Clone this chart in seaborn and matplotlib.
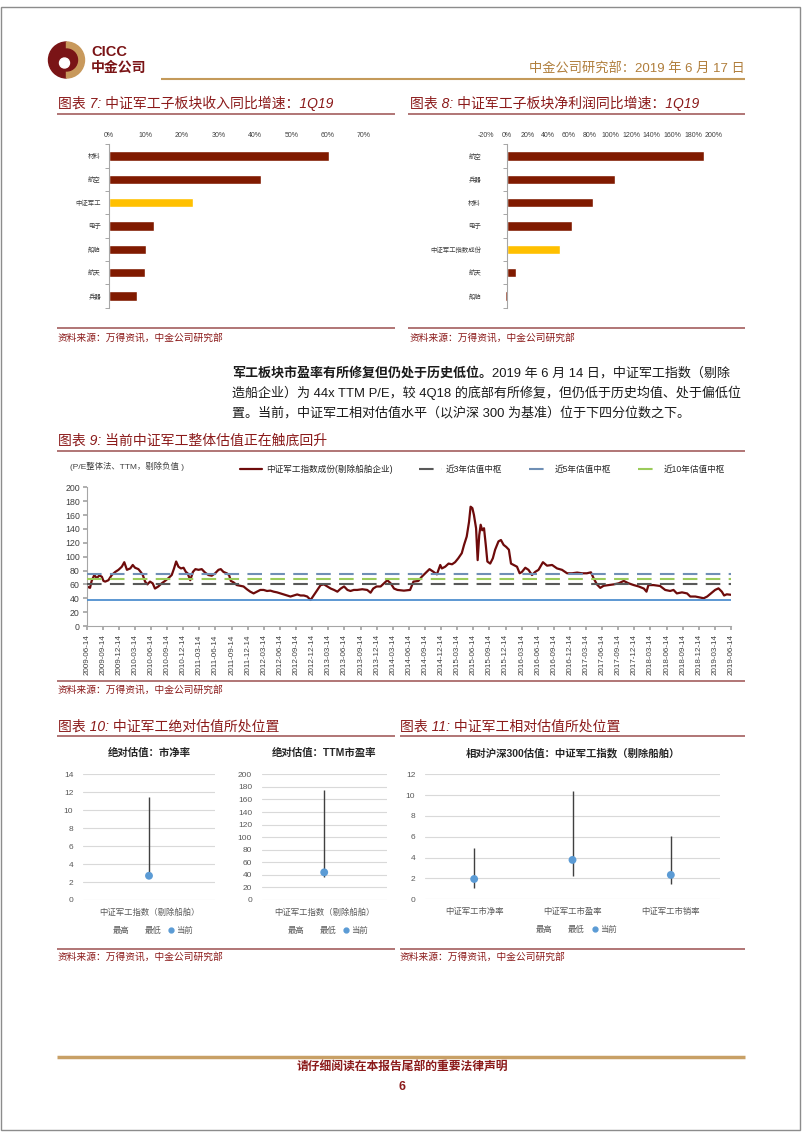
import matplotlib
matplotlib.use('Agg')
import matplotlib.pyplot as plt
import matplotlib.patches as mpatches
from matplotlib.lines import Line2D
import seaborn as sns
import pandas as pd
import numpy as np

# 图表7: 子板块收入同比增速 (%)
rev_cats = ['材料', '航空', '中证军工', '电子', '船舶', '航天', '兵器']
rev_growth = [60.4, 41.7, 23.1, 12.2, 10.2, 9.9, 7.5]

# 图表8: 子板块净利润同比增速 (%)
np_cats = ['航空', '兵器', '材料', '电子', '中证军工指数成份', '航天', '船舶']
np_growth = [190.6, 104.3, 83.0, 62.5, 51.2, 9.0, -1.2]

highlight = ['中证军工', '中证军工指数成份']

# 图表9: 中证军工 PE (TTM)
pe_dates = [
    '2009-06-15', '2009-07-03', '2009-07-12', '2009-07-27', '2009-08-10', '2009-08-25',
    '2009-09-08', '2009-09-17', '2009-09-27', '2009-10-15', '2009-11-03', '2009-11-23',
    '2009-12-11', '2009-12-30', '2010-01-13', '2010-01-28', '2010-02-16', '2010-03-02',
    '2010-03-15', '2010-04-03', '2010-04-16', '2010-04-28', '2010-05-11', '2010-05-24',
    '2010-06-08', '2010-06-23', '2010-07-06', '2010-07-25', '2010-08-13', '2010-09-01',
    '2010-09-20', '2010-10-09', '2010-10-22', '2010-11-03', '2010-11-16', '2010-11-30',
    '2010-12-15', '2010-12-28', '2011-01-07', '2011-01-22', '2011-02-06', '2011-02-20',
    '2011-03-10', '2011-03-28', '2011-04-16', '2011-05-05', '2011-05-24', '2011-06-12',
    '2011-07-01', '2011-07-14', '2011-07-29', '2011-08-17', '2011-08-30', '2011-09-09',
    '2011-09-24', '2011-10-13', '2011-11-01', '2011-11-20', '2011-12-09', '2011-12-28',
    '2012-01-16', '2012-02-04', '2012-02-23', '2012-03-13', '2012-04-01', '2012-04-20',
    '2012-05-09', '2012-05-28', '2012-06-16', '2012-07-05', '2012-07-24', '2012-08-12',
    '2012-08-31', '2012-09-19', '2012-10-08', '2012-10-27', '2012-11-15', '2012-12-04',
    '2012-12-23', '2013-01-11', '2013-01-30', '2013-02-18', '2013-03-09', '2013-03-28',
    '2013-04-16', '2013-05-05', '2013-05-24', '2013-06-12', '2013-07-01', '2013-07-18',
    '2013-08-06', '2013-08-25', '2013-09-23', '2013-10-21', '2013-11-09', '2013-11-24',
    '2013-12-13', '2014-01-05', '2014-01-24', '2014-02-12', '2014-03-03', '2014-03-22',
    '2014-04-10', '2014-05-17', '2014-06-21', '2014-07-10', '2014-08-07', '2014-08-26',
    '2014-09-15', '2014-10-09', '2014-11-01', '2014-11-20', '2014-12-09', '2014-12-18',
    '2015-01-06', '2015-01-25', '2015-02-14', '2015-03-03', '2015-03-21', '2015-04-10',
    '2015-04-23', '2015-05-08', '2015-05-21', '2015-05-30', '2015-06-09', '2015-06-18',
    '2015-06-30', '2015-07-09', '2015-07-18', '2015-07-26', '2015-08-04', '2015-08-14',
    '2015-08-24', '2015-09-02', '2015-09-18', '2015-10-03', '2015-10-16', '2015-11-04',
    '2015-11-18', '2015-12-03', '2015-12-18', '2016-01-02', '2016-01-14', '2016-01-29',
    '2016-02-17', '2016-03-03', '2016-03-16', '2016-04-04', '2016-04-22', '2016-05-12',
    '2016-05-30', '2016-06-18', '2016-07-13', '2016-08-05', '2016-09-03', '2016-10-01',
    '2016-10-29', '2016-11-27', '2016-12-25', '2017-01-23', '2017-02-20', '2017-03-19',
    '2017-04-11', '2017-04-26', '2017-05-15', '2017-06-03', '2017-06-22', '2017-07-20',
    '2017-08-18', '2017-09-15', '2017-10-14', '2017-11-11', '2017-12-10', '2018-01-07',
    '2018-02-05', '2018-02-20', '2018-03-03', '2018-04-01', '2018-05-08', '2018-06-06',
    '2018-07-04', '2018-07-23', '2018-08-11', '2018-09-09', '2018-10-08', '2018-10-26',
    '2018-11-24', '2018-12-22', '2019-01-10', '2019-01-30', '2019-02-27', '2019-03-16',
    '2019-04-04', '2019-04-23', '2019-05-06', '2019-05-21', '2019-06-14',
]
pe_values = [
    57, 55, 65, 73.5, 69, 73,
    71, 65, 64, 66, 73.5, 78,
    81, 85.5, 92, 81, 83, 88,
    84, 82, 78, 73.5, 64, 60,
    64, 61.5, 54, 57, 61.5, 65,
    69, 73.5, 83, 93, 85.5, 83,
    84, 78, 76, 66, 78, 82,
    81, 82, 77, 73.5, 72.5, 76,
    81, 82, 78, 76, 73.5, 65,
    63, 59, 58, 57, 53, 49.5,
    47, 49.5, 52, 52, 50.5, 51,
    49.5, 48.5, 47, 45.5, 44, 42.5,
    44, 45.5, 44, 44, 42.5, 37.5,
    44.7, 52, 59, 60, 57, 54,
    52, 49.5, 54, 57, 52, 50.5,
    52, 52, 53, 52, 48, 54,
    57, 57, 61.5, 66, 61.5, 54,
    52, 51, 52, 64, 65, 71,
    76, 82, 78, 74.5, 88, 83,
    85.5, 90, 89, 92, 97.6, 105,
    117, 129, 150, 172, 170, 160,
    141, 95, 131, 146, 138, 141,
    117, 93, 90, 97.6, 110, 122,
    124, 117, 114, 110, 90, 88,
    85.5, 76, 78, 84, 81, 73.5,
    78, 81, 92, 87, 88, 83,
    81, 76, 76, 77, 76, 76,
    77.4, 69, 60, 55, 58, 59,
    60, 61.5, 65, 61.5, 59, 57,
    54, 49.5, 59, 59, 57.7, 52,
    50.5, 52, 47, 48.5, 47, 42.5,
    42.5, 41, 40, 42.5, 48.5, 52,
    54.3, 49.5, 44, 45.7, 45,
]
median_labels = ['近3年估值中枢', '近5年估值中枢', '近10年估值中枢']
median_values = [61, 74.5, 68]
floor_value = 37.5
pe_ticks = [f'{y}-{m:02d}-14' for y in range(2009, 2020) for m in (3, 6, 9, 12)][1:-2]

# 图表10: 绝对估值
abs_cat = ['中证军工指数（剔除船舶）']
pb_high, pb_low, pb_cur = [11.5], [2.4], [2.7]
pe_high, pe_low, pe_cur = [175], [37], [44]

# 图表11: 相对沪深300估值
rel_cats = ['中证军工市净率', '中证军工市盈率', '中证军工市销率']
rel_high = [4.96, 10.4, 6.08]
rel_low = [1.06, 2.24, 1.47]
rel_cur = [1.95, 3.78, 2.34]

sns.set_theme(style='white')
plt.rcParams['font.family'] = ['Liberation Sans', 'Noto Sans CJK SC', 'DejaVu Sans']
plt.rcParams['axes.unicode_minus'] = False

W, H = 802, 1133
fig = plt.figure(figsize=(W / 100, H / 100), dpi=100)

RED = '#8B1A1A'
BAR = '#801A00'
YEL = '#FFC000'
GOLD = '#C49A5A'
RULE = '#A35D5D'
DOT = '#5B9BD5'
TXT = '#404040'


def box(l, t, w, h):
    return fig.add_axes([l / W, 1 - (t + h) / H, w / W, h / H])


bg = fig.add_axes([0, 0, 1, 1])
bg.set_xlim(0, W)
bg.set_ylim(H, 0)
bg.axis('off')


def rule(y, x0, x1, color=RULE, lw=1.2):
    bg.plot([x0, x1], [y, y], color=color, lw=lw, solid_capstyle='butt')


def chart_title(x, y, s):
    bg.text(x, y, s, color=RED, fontsize=10, fontstyle='italic', va='center', ha='left')


def source(x, y):
    bg.text(x, y, '资料来源：万得资讯，中金公司研究部', color=RED, fontsize=7,
            fontstyle='italic', va='center', ha='left')


# page border + header
bg.add_patch(mpatches.Rectangle((1, 7), 799, 1123, fill=False, ec='#8C8C8C', lw=1))
bg.add_patch(mpatches.Wedge((66.5, 60), 18, 90, 270, color='#7A1416'))
bg.add_patch(mpatches.Wedge((66.5, 60), 18, -90, 90, width=7, color='#C8995C'))
bg.add_patch(mpatches.Circle((66.5, 60), 11, color='#7A1416'))
bg.add_patch(mpatches.Circle((64.5, 63), 5, color='white'))
bg.text(91, 52, 'CICC', color='#7A1416', fontsize=10.5, fontweight='bold', va='center')
bg.text(91, 68, '中金公司', color='#7A1416', fontsize=10, fontweight='bold', va='center')
bg.text(745, 68, '中金公司研究部：2019 年 6 月 17 日', color='#B07E3C', fontsize=9.5,
        ha='right', va='center')
rule(79, 161, 745, color=GOLD, lw=1.5)

# footer
rule(1057, 57, 745, color='#C8A066', lw=2.5)
bg.text(402, 1068, '请仔细阅读在本报告尾部的重要法律声明', color=RED, fontsize=8.5,
        fontweight='bold', fontstyle='italic', ha='center', va='center')
bg.text(402, 1087, '6', color=RED, fontsize=9, fontweight='bold', ha='center', va='center')

# chart titles, rules, sources
chart_title(58, 103, '图表 7: 中证军工子板块收入同比增速：1Q19')
chart_title(410, 103, '图表 8: 中证军工子板块净利润同比增速：1Q19')
rule(114, 57, 395)
rule(114, 408, 745)
rule(328, 57, 395)
rule(328, 408, 745)
source(58, 338)
source(410, 338)

chart_title(58, 441, '图表 9: 当前中证军工整体估值正在触底回升')
rule(451, 57, 745)
rule(681, 57, 745)
source(58, 690)

chart_title(58, 727, '图表 10: 中证军工绝对估值所处位置')
chart_title(400, 727, '图表 11: 中证军工相对估值所处位置')
rule(736, 57, 395)
rule(736, 400, 745)
rule(949, 57, 395)
rule(949, 400, 745)
source(58, 957)
source(400, 957)

# body paragraph
body_bold = '军工板块市盈率有所修复但仍处于历史低位。'
body_lines = ['2019 年 6 月 14 日，中证军工指数（剔除',
              '造船企业）为 44x TTM P/E，较 4Q18 的底部有所修复，但仍低于历史均值、处于偏低位',
              '置。当前，中证军工相对估值水平（以沪深 300 为基准）位于下四分位数之下。']
t0 = bg.text(232, 373, body_bold, fontsize=9.4, fontweight='bold', va='center', color='#1A1A1A')
bg.annotate(body_lines[0], xy=(1, 0.5), xycoords=t0, va='center', ha='left',
            fontsize=9.4, color='#1A1A1A')
bg.text(232, 393, body_lines[1], fontsize=9.4, va='center', color='#1A1A1A')
bg.text(232, 413, body_lines[2], fontsize=9.4, va='center', color='#1A1A1A')


def growth_bars(ax, cats, vals, lo, hi, step):
    pal = {c: (YEL if c in highlight else BAR) for c in cats}
    sns.barplot(x=vals, y=cats, hue=cats, palette=pal, orient='h', width=0.4,
                saturation=1, legend=False, ax=ax)
    ax.set_xlim(lo, hi)
    ax.set_ylim(len(cats) - 0.5, -0.5)
    ticks = np.arange(lo, hi + 1, step)
    ax.set_xticks(ticks, [f'{int(v)}%' for v in ticks])
    ax.xaxis.tick_top()
    ax.set_xlabel('')
    ax.set_ylabel('')
    for s in ['top', 'right', 'bottom']:
        ax.spines[s].set_visible(False)
    ax.spines['left'].set_color('#A6A6A6')
    ax.spines['left'].set_linewidth(0.8)
    ax.set_yticks(np.arange(-0.5, len(cats), 1), minor=True)
    ax.tick_params(axis='x', length=0, pad=4, labelsize=5, colors=TXT)
    ax.tick_params(axis='y', which='major', length=0, labelsize=4.6, colors=TXT)
    ax.tick_params(axis='y', which='minor', left=True, length=3, color='#A6A6A6', width=0.7)


ax7 = box(109.3, 144.3, 254.7, 163.3)
growth_bars(ax7, rev_cats, rev_growth, 0, 70, 10)
ax7.tick_params(axis='y', which='major', pad=6)

ax8 = box(486, 144.3, 228, 163.3)
growth_bars(ax8, np_cats, np_growth, -20, 200, 20)
ax8.spines['left'].set_position(('data', 0))
ax8.tick_params(axis='y', which='major', pad=18.5)

# 图表9
ax9 = box(86.7, 487.3, 644.3, 138.7)
pe_df = pd.DataFrame({'date': pd.to_datetime(pe_dates), 'pe': pe_values})
sns.lineplot(data=pe_df, x='date', y='pe', ax=ax9, color='#6E0B0B', lw=1.6,
             label='中证军工指数成份(剔除船舶企业)')
for val, col, lab in zip(median_values, ['#595959', '#6F8FB5', '#9BCB5A'], median_labels):
    ax9.axhline(val, color=col, lw=1.5, ls=(0, (7, 4)), label=lab, zorder=3)
ax9.axhline(floor_value, color='#4F8FCF', lw=1.3, label='_nolegend_', zorder=3)
ax9.set_xlim(pd.Timestamp('2009-06-14'), pd.Timestamp('2019-06-14'))
ax9.set_ylim(0, 200)
ax9.set_yticks(np.arange(0, 201, 20))
ax9.set_xticks(pd.to_datetime(pe_ticks), pe_ticks, rotation=90)
ax9.set_xlabel('')
ax9.set_ylabel('')
for s in ['top', 'right']:
    ax9.spines[s].set_visible(False)
for s in ['left', 'bottom']:
    ax9.spines[s].set_color('#A6A6A6')
    ax9.spines[s].set_linewidth(0.8)
ax9.tick_params(axis='x', bottom=True, length=3, color='#A6A6A6', pad=3, labelsize=5.8, colors=TXT)
ax9.tick_params(axis='y', left=True, length=3, color='#A6A6A6', pad=2, labelsize=6.3, colors=TXT)
h9, l9 = ax9.get_legend_handles_labels()
ax9.legend(h9, l9, loc='lower left', ncol=4, mode='expand', frameon=False, fontsize=6.2,
           bbox_to_anchor=(240 / W, 1 - 474 / H, (725 - 240) / W, 16 / H),
           bbox_transform=fig.transFigure, handlelength=2.6, handletextpad=0.4,
           borderaxespad=0, borderpad=0)
bg.text(70, 466, '(P/E整体法、TTM，剔除负值 )', fontsize=6, color=TXT, va='center')


def range_panel(ax, cats, highs, lows, curs, ymax, step, title):
    x = np.arange(len(cats))
    ax.vlines(x, lows, highs, color='#404040', lw=1, zorder=2)
    sns.scatterplot(x=x, y=curs, ax=ax, color=DOT, s=32, edgecolor='none', zorder=3, legend=False)
    ax.set_xlim(-0.5, len(cats) - 0.5)
    ax.set_ylim(0, ymax)
    ax.set_yticks(np.arange(0, ymax + 1e-9, step))
    ax.set_xticks(x, cats)
    ax.set_axisbelow(True)
    ax.grid(axis='y', color='#D9D9D9', lw=0.8)
    for s in ax.spines.values():
        s.set_visible(False)
    ax.tick_params(axis='y', length=0, pad=7, labelsize=6, colors='#595959')
    ax.tick_params(axis='x', length=0, pad=6, labelsize=6, colors='#595959')
    ax.set_title(title, fontsize=7.5, fontweight='bold', pad=13, color='#262626')
    handles = [Line2D([], [], color='none'), Line2D([], [], color='none'),
               Line2D([], [], marker='o', ls='none', color=DOT, markersize=3.5)]
    ax.legend(handles, ['最高', '最低', '当前'], loc='center', ncol=3, frameon=False,
              bbox_to_anchor=(0.5, -31 / ax.bbox.height), fontsize=6,
              handlelength=0.6, handletextpad=0.3, columnspacing=0.9,
              labelcolor='#595959')


ax10a = box(83, 774.3, 132, 125.7)
range_panel(ax10a, abs_cat, pb_high, pb_low, pb_cur, 14, 2, '绝对估值：市净率')
ax10b = box(261.7, 774.3, 125, 125.7)
range_panel(ax10b, abs_cat, pe_high, pe_low, pe_cur, 200, 20, '绝对估值：TTM市盈率')
ax11 = box(425, 774.3, 295, 125)
range_panel(ax11, rel_cats, rel_high, rel_low, rel_cur, 12, 2,
            '相对沪深300估值：中证军工指数（剔除船舶）')

fig.savefig('out.png', dpi=100)
